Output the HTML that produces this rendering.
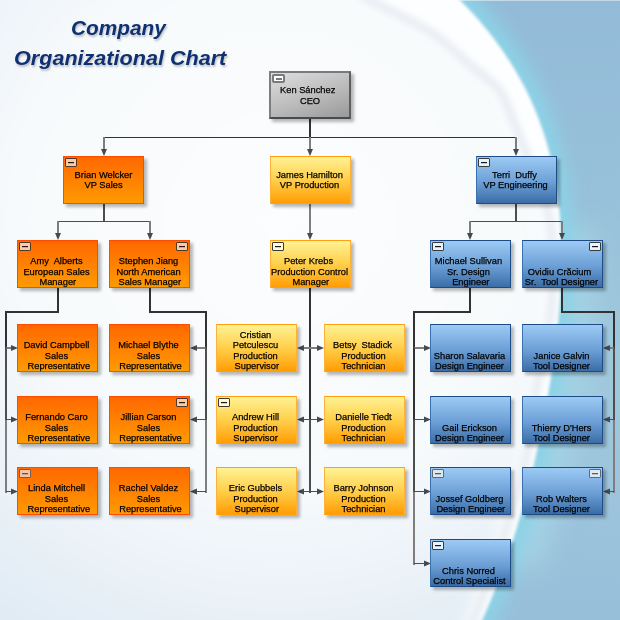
<!DOCTYPE html>
<html><head><meta charset="utf-8">
<style>
*{margin:0;padding:0;box-sizing:border-box}
html,body{width:620px;height:620px;overflow:hidden}
body{position:relative;font-family:"Liberation Sans",sans-serif;background:#eef5fa}
#bg{position:absolute;left:0;top:0}
#cn,#ar{position:absolute;left:0;top:0}
.title{position:absolute;font-family:"Liberation Sans",sans-serif;font-weight:bold;font-style:italic;color:#0f3072;font-size:20.5px;white-space:nowrap;transform-origin:0 0;text-shadow:1px 2px 2px rgba(60,60,60,.3)}
.bx{position:absolute;width:81px;height:48px;border:1px solid;box-shadow:3px 3px 3px rgba(0,0,0,.28)}
.bx .t{position:absolute;left:-5px;right:-3px;text-align:center;font-size:9.8px;line-height:10.35px;white-space:pre;color:#000;-webkit-text-stroke:0.25px #000;transform:scaleX(.95)}
.orange{border-color:#ff4a00;background:linear-gradient(#ff6800,#ff9a00)}
.yellow{border-color:#ffa00c;border-left-color:#ffb23a;border-right-color:#ffb23a;background:linear-gradient(#fff294,#ffcf4a 50%,#ff9d04)}
.blue{border-color:#1c4c88;border-left-color:#3a70b0;background:linear-gradient(#9ccaf4,#6c9fd6 55%,#3b6ca6)}
.gray{left:269px!important;width:82px;height:48px;border:2px solid;border-color:#7a7a7a #5e5e5e #4a4a4a #7e7e7e;background:linear-gradient(160deg,#dedede,#bbbbbb 55%,#999)}
.ic{position:absolute;top:1px;width:12px;height:9px;border:1px solid #3a3a3a;border-radius:1px}
.ic.L{left:1px} .ic.R{right:1px}
.ic:after{content:"";position:absolute;left:2px;width:6px;top:3px;height:1px;background:#1a1a1a;box-shadow:0 0.5px 0 rgba(0,0,0,.35)}
.orange .ic{background:#ffcaa0;border-color:#4a3a30}
.yellow .ic{background:#fffbd8}
.blue .ic{background:#e6f4fe}
.orange .ic.dim{background:#f4c4a4;border-color:#7a5a4a}
.orange .ic.dim:after{background:#6a5046}
.blue .ic.dim{background:#dde9f2;border-color:#626870}
.blue .ic.dim:after{background:#5a5e64}
.gray .ic{background:#fdfdfd;border:2px solid #7a7a7a;border-radius:2px;top:1px;left:1px;width:13px;height:9px}
.gray .ic:after{background:#7a7a7a;top:1.5px;left:1.5px;width:6px;height:2px;box-shadow:none}
</style></head><body>
<svg id="bg" width="620" height="620" viewBox="0 0 620 620">
<defs>
<filter id="b2" filterUnits="userSpaceOnUse" x="-100" y="-100" width="820" height="860"><feGaussianBlur stdDeviation="1.6"/></filter>
<filter id="b4" filterUnits="userSpaceOnUse" x="-100" y="-100" width="820" height="860"><feGaussianBlur stdDeviation="3.5"/></filter>
<filter id="b8" filterUnits="userSpaceOnUse" x="-100" y="-100" width="820" height="860"><feGaussianBlur stdDeviation="8"/></filter>
<filter id="b14" filterUnits="userSpaceOnUse" x="-100" y="-100" width="820" height="860"><feGaussianBlur stdDeviation="12"/></filter>
<radialGradient id="ig" cx="280" cy="220" r="480" gradientUnits="userSpaceOnUse">
<stop offset="0" stop-color="#fcfdfe"/><stop offset="0.55" stop-color="#f7fafc"/><stop offset="1" stop-color="#e0ebf4"/>
</radialGradient>
<linearGradient id="bb" x1="0" y1="0" x2="0" y2="1">
<stop offset="0" stop-color="#93bbd8"/><stop offset="0.3" stop-color="#97c0da"/><stop offset="0.62" stop-color="#a0c8dd"/><stop offset="1" stop-color="#98bfda"/>
</linearGradient>
</defs>
<rect width="620" height="620" fill="url(#bb)"/>
<path d="M560.8 230.0 L561.2 240.0 L561.4 250.0 L561.4 260.0 L561.3 270.0 L560.9 280.0 L560.5 290.0 L559.8 300.0 L559.1 310.0 L558.2 320.0 L557.2 330.0 L556.1 340.0 L554.8 350.0 L553.5 360.0 L552.0 370.0 L550.5 380.0 L548.8 390.0 L547.1 400.0 L545.2 410.0 L543.3 420.0 L541.3 430.0 L539.2 440.0 L537.0 450.0 L534.7 460.0 L532.3 470.0 L529.9 480.0 L527.3 490.0 L524.6 500.0 L521.8 510.0 L518.9 520.0 L515.9 530.0 L512.7 540.0 L509.5 550.0 L506.0 560.0" fill="none" stroke="#a4d2e4" stroke-width="70" filter="url(#b14)"/>
<path d="M414.2 -40.0 L426.8 -30.0 L438.5 -20.0 L449.6 -10.0 L460.0 0.0 L469.7 10.0 L478.7 20.0 L487.1 30.0 L494.9 40.0 L502.2 50.0 L508.9 60.0 L515.1 70.0 L520.8 80.0 L526.1 90.0 L530.8 100.0 L535.2 110.0 L539.1 120.0 L542.7 130.0 L545.9 140.0 L548.7 150.0 L551.2 160.0 L553.4 170.0 L555.3 180.0 L556.9 190.0 L558.2 200.0 L559.3 210.0 L560.1 220.0 L560.8 230.0 L561.2 240.0 L561.4 250.0 L561.4 260.0 L561.3 270.0 L560.9 280.0 L560.5 290.0 L559.8 300.0 L559.1 310.0 L558.2 320.0 L557.2 330.0 L556.1 340.0 L554.8 350.0 L553.5 360.0 L552.0 370.0 L550.5 380.0 L548.8 390.0 L547.1 400.0 L545.2 410.0 L543.3 420.0 L541.3 430.0 L539.2 440.0 L537.0 450.0 L534.7 460.0 L532.3 470.0 L529.9 480.0 L527.3 490.0 L524.6 500.0 L521.8 510.0 L518.9 520.0 L515.9 530.0 L512.7 540.0 L509.5 550.0 L506.0 560.0 L502.5 570.0 L498.7 580.0 L494.8 590.0 L490.7 600.0 L486.4 610.0 L482.0 620.0 L477.3 630.0 L472.3 640.0 L467.2 650.0 L461.7 660.0" fill="none" stroke="#8cd2e6" stroke-width="26" filter="url(#b8)"/>
<path d="M414.2 -40.0 L426.8 -30.0 L438.5 -20.0 L449.6 -10.0 L460.0 0.0 L469.7 10.0 L478.7 20.0 L487.1 30.0 L494.9 40.0 L502.2 50.0 L508.9 60.0 L515.1 70.0 L520.8 80.0 L526.1 90.0 L530.8 100.0 L535.2 110.0 L539.1 120.0 L542.7 130.0 L545.9 140.0 L548.7 150.0 L551.2 160.0 L553.4 170.0 L555.3 180.0 L556.9 190.0 L558.2 200.0 L559.3 210.0 L560.1 220.0 L560.8 230.0 L561.2 240.0 L561.4 250.0 L561.4 260.0 L561.3 270.0 L560.9 280.0 L560.5 290.0 L559.8 300.0 L559.1 310.0 L558.2 320.0 L557.2 330.0 L556.1 340.0 L554.8 350.0 L553.5 360.0 L552.0 370.0 L550.5 380.0 L548.8 390.0 L547.1 400.0 L545.2 410.0 L543.3 420.0 L541.3 430.0 L539.2 440.0 L537.0 450.0 L534.7 460.0 L532.3 470.0 L529.9 480.0 L527.3 490.0 L524.6 500.0 L521.8 510.0 L518.9 520.0 L515.9 530.0 L512.7 540.0 L509.5 550.0 L506.0 560.0 L502.5 570.0 L498.7 580.0 L494.8 590.0 L490.7 600.0 L486.4 610.0 L482.0 620.0 L477.3 630.0 L472.3 640.0 L467.2 650.0 L461.7 660.0 L-50 670 L-50 -50 Z" fill="#fdfeff" filter="url(#b2)"/>
<path d="M324.0 -20.0 C335.5 -14.2 376.8 6.7 393.0 15.0 C409.2 23.3 412.8 25.0 421.0 30.0 C429.2 35.0 435.8 40.0 442.0 45.0 C448.2 50.0 449.5 52.5 458.0 60.0 C466.5 67.5 484.8 80.0 493.0 90.0 C501.2 100.0 502.7 110.0 507.0 120.0 C511.3 130.0 514.8 140.0 519.0 150.0 C523.2 160.0 528.2 170.0 532.0 180.0 C535.8 190.0 539.7 200.0 542.0 210.0 C544.3 220.0 545.2 228.3 546.0 240.0 C546.8 251.7 547.3 266.7 547.0 280.0 C546.7 293.3 545.5 306.7 544.0 320.0 C542.5 333.3 540.2 349.2 538.0 360.0 C535.8 370.8 533.8 369.2 531.0 385.0 C528.2 400.8 524.7 435.8 521.0 455.0 C517.3 474.2 513.0 485.8 509.0 500.0 C505.0 514.2 502.0 525.0 497.0 540.0 C492.0 555.0 484.2 575.8 479.0 590.0 C473.8 604.2 469.3 615.0 466.0 625.0 C462.7 635.0 460.2 645.8 459.0 650.0 L-50 670 L-50 -50 Z" fill="url(#ig)" filter="url(#b8)"/>
<path d="M330.0 -20.0 C341.5 -14.2 382.8 6.7 399.0 15.0 C415.2 23.3 418.8 25.0 427.0 30.0 C435.2 35.0 441.8 40.0 448.0 45.0 C454.2 50.0 455.5 52.5 464.0 60.0 C472.5 67.5 490.8 80.0 499.0 90.0 C507.2 100.0 508.7 110.0 513.0 120.0 C517.3 130.0 520.8 140.0 525.0 150.0 C529.2 160.0 534.2 170.0 538.0 180.0 C541.8 190.0 545.7 200.0 548.0 210.0 C550.3 220.0 551.2 228.3 552.0 240.0 C552.8 251.7 553.3 266.7 553.0 280.0 C552.7 293.3 551.5 306.7 550.0 320.0 C548.5 333.3 546.2 349.2 544.0 360.0 C541.8 370.8 539.8 369.2 537.0 385.0 C534.2 400.8 530.7 435.8 527.0 455.0 C523.3 474.2 519.0 485.8 515.0 500.0 C511.0 514.2 508.0 525.0 503.0 540.0 C498.0 555.0 490.2 575.8 485.0 590.0 C479.8 604.2 475.3 615.0 472.0 625.0 C468.7 635.0 466.2 645.8 465.0 650.0" fill="none" stroke="#e7ecf2" stroke-width="8" filter="url(#b4)"/>
<rect x="440" y="0" width="180" height="1" fill="#fff" opacity=".45"/>
</svg>
<div class="title" style="left:71px;top:15.5px;transform:scaleX(1.014)">Company</div>
<div class="title" style="left:14px;top:45.6px;transform:scaleX(1.053)">Organizational Chart</div>
<svg id="cn" width="620" height="620" viewBox="0 0 620 620" shape-rendering="crispEdges">
<line x1="310" y1="119" x2="310" y2="138" stroke="#323232" stroke-width="2"/>
<line x1="103" y1="137.5" x2="517" y2="137.5" stroke="#323232" stroke-width="1"/>
<line x1="104" y1="137" x2="104" y2="150" stroke="#7e7e7e" stroke-width="2"/>
<line x1="310" y1="137" x2="310" y2="150" stroke="#7e7e7e" stroke-width="2"/>
<line x1="516" y1="137" x2="516" y2="150" stroke="#7e7e7e" stroke-width="2"/>
<line x1="104" y1="203" x2="104" y2="222" stroke="#4e4e4e" stroke-width="2"/>
<line x1="57" y1="221.5" x2="151" y2="221.5" stroke="#7e7e7e" stroke-width="1"/>
<line x1="57" y1="221.5" x2="151" y2="221.5" stroke="#4e4e4e" stroke-width="1"/>
<line x1="58" y1="221" x2="58" y2="234" stroke="#7e7e7e" stroke-width="2"/>
<line x1="150" y1="221" x2="150" y2="234" stroke="#7e7e7e" stroke-width="2"/>
<line x1="310" y1="203" x2="310" y2="234" stroke="#7e7e7e" stroke-width="2"/>
<line x1="516" y1="203" x2="516" y2="222" stroke="#4e4e4e" stroke-width="2"/>
<line x1="469" y1="221.5" x2="563" y2="221.5" stroke="#4e4e4e" stroke-width="1"/>
<line x1="470" y1="221" x2="470" y2="234" stroke="#7e7e7e" stroke-width="2"/>
<line x1="562" y1="221" x2="562" y2="234" stroke="#7e7e7e" stroke-width="2"/>
<line x1="58" y1="287" x2="58" y2="313" stroke="#323232" stroke-width="2"/>
<line x1="5" y1="312" x2="59" y2="312" stroke="#323232" stroke-width="2"/>
<line x1="6" y1="311" x2="6" y2="348" stroke="#323232" stroke-width="2"/>
<line x1="6" y1="348" x2="11" y2="348" stroke="#7e7e7e" stroke-width="2"/>
<line x1="6" y1="348" x2="6" y2="419.5" stroke="#4e4e4e" stroke-width="2"/>
<line x1="6" y1="419.5" x2="11" y2="419.5" stroke="#4e4e4e" stroke-width="1"/>
<line x1="6" y1="419.5" x2="6" y2="492.5" stroke="#7e7e7e" stroke-width="2"/>
<line x1="6" y1="491.5" x2="11" y2="491.5" stroke="#4e4e4e" stroke-width="1"/>
<line x1="150" y1="287" x2="150" y2="313" stroke="#323232" stroke-width="2"/>
<line x1="149" y1="312" x2="207" y2="312" stroke="#323232" stroke-width="2"/>
<line x1="206" y1="311" x2="206" y2="348" stroke="#323232" stroke-width="2"/>
<line x1="196" y1="348" x2="206" y2="348" stroke="#7e7e7e" stroke-width="2"/>
<line x1="206" y1="348" x2="206" y2="419.5" stroke="#4e4e4e" stroke-width="2"/>
<line x1="196" y1="419.5" x2="206" y2="419.5" stroke="#4e4e4e" stroke-width="1"/>
<line x1="206" y1="419.5" x2="206" y2="492.5" stroke="#7e7e7e" stroke-width="2"/>
<line x1="196" y1="491.5" x2="206" y2="491.5" stroke="#4e4e4e" stroke-width="1"/>
<line x1="470" y1="287" x2="470" y2="313" stroke="#323232" stroke-width="2"/>
<line x1="413" y1="312" x2="471" y2="312" stroke="#323232" stroke-width="2"/>
<line x1="414" y1="311" x2="414" y2="348" stroke="#323232" stroke-width="2"/>
<line x1="414" y1="348" x2="424" y2="348" stroke="#7e7e7e" stroke-width="2"/>
<line x1="414" y1="348" x2="414" y2="419.5" stroke="#323232" stroke-width="2"/>
<line x1="414" y1="419.5" x2="424" y2="419.5" stroke="#4e4e4e" stroke-width="1"/>
<line x1="414" y1="419.5" x2="414" y2="491.5" stroke="#4e4e4e" stroke-width="2"/>
<line x1="414" y1="491.5" x2="424" y2="491.5" stroke="#4e4e4e" stroke-width="1"/>
<line x1="414" y1="491.5" x2="414" y2="564.5" stroke="#7e7e7e" stroke-width="2"/>
<line x1="414" y1="563.5" x2="424" y2="563.5" stroke="#4e4e4e" stroke-width="1"/>
<line x1="562" y1="287" x2="562" y2="313" stroke="#323232" stroke-width="2"/>
<line x1="561" y1="312" x2="615" y2="312" stroke="#323232" stroke-width="2"/>
<line x1="614" y1="311" x2="614" y2="348" stroke="#323232" stroke-width="2"/>
<line x1="609" y1="348" x2="614" y2="348" stroke="#7e7e7e" stroke-width="2"/>
<line x1="614" y1="348" x2="614" y2="419.5" stroke="#4e4e4e" stroke-width="2"/>
<line x1="609" y1="419.5" x2="614" y2="419.5" stroke="#4e4e4e" stroke-width="1"/>
<line x1="614" y1="419.5" x2="614" y2="492.5" stroke="#7e7e7e" stroke-width="2"/>
<line x1="609" y1="491.5" x2="614" y2="491.5" stroke="#4e4e4e" stroke-width="1"/>
<line x1="310" y1="287" x2="310" y2="348" stroke="#323232" stroke-width="2"/>
<line x1="310" y1="348" x2="310" y2="419.5" stroke="#323232" stroke-width="2"/>
<line x1="310" y1="419.5" x2="310" y2="492.5" stroke="#4e4e4e" stroke-width="2"/>
<line x1="303" y1="348" x2="317" y2="348" stroke="#7e7e7e" stroke-width="2"/>
<line x1="303" y1="419.5" x2="317" y2="419.5" stroke="#4e4e4e" stroke-width="1"/>
<line x1="303" y1="491.5" x2="317" y2="491.5" stroke="#4e4e4e" stroke-width="1"/>
</svg><svg id="ar" width="620" height="620" fill="#434a50"><path d="M101 149h6L104 156z"/><path d="M307 149h6L310 156z"/><path d="M513 149h6L516 156z"/><path d="M55 233h6L58 240z"/><path d="M147 233h6L150 240z"/><path d="M307 233h6L310 240z"/><path d="M467 233h6L470 240z"/><path d="M559 233h6L562 240z"/><path d="M11 345v6L18 348z"/><path d="M11 416.5v6L18 419.5z"/><path d="M11 488.5v6L18 491.5z"/><path d="M197 345v6L190 348z"/><path d="M197 416.5v6L190 419.5z"/><path d="M197 488.5v6L190 491.5z"/><path d="M424 345v6L431 348z"/><path d="M424 416.5v6L431 419.5z"/><path d="M424 488.5v6L431 491.5z"/><path d="M424 560.5v6L431 563.5z"/><path d="M610 345v6L603 348z"/><path d="M610 416.5v6L603 419.5z"/><path d="M610 488.5v6L603 491.5z"/><path d="M304 345v6L297 348z"/><path d="M317 345v6L324 348z"/><path d="M304 416.5v6L297 419.5z"/><path d="M317 416.5v6L324 419.5z"/><path d="M304 488.5v6L297 491.5z"/><path d="M317 488.5v6L324 491.5z"/>
</svg>
<div class="bx gray" style="left:270px;top:71px"><i class="ic L"></i><div class="t" style="top:12.03px">Ken Sánchez </div><div class="t" style="top:22.73px;margin-left:1px;margin-right:-1px">CEO</div></div>
<div class="bx orange" style="left:63px;top:156px"><i class="ic L"></i><div class="t" style="top:12.83px;margin-left:1px;margin-right:-1px">Brian Welcker</div><div class="t" style="top:23.18px;margin-left:1px;margin-right:-1px">VP Sales</div></div>
<div class="bx yellow" style="left:270px;top:156px"><div class="t" style="top:12.83px">James Hamilton</div><div class="t" style="top:23.18px">VP Production</div></div>
<div class="bx blue" style="left:476px;top:156px"><i class="ic L"></i><div class="t" style="top:12.83px;margin-left:-1.5px;margin-right:1.5px">Terri  Duffy</div><div class="t" style="top:23.18px">VP Engineering</div></div>
<div class="bx orange" style="left:17px;top:240px"><i class="ic L"></i><div class="t" style="top:15.23px">Amy  Alberts</div><div class="t" style="top:25.58px">European Sales</div><div class="t" style="top:35.93px"> Manager</div></div>
<div class="bx orange" style="left:109px;top:240px"><i class="ic R"></i><div class="t" style="top:15.23px">Stephen Jiang</div><div class="t" style="top:25.58px">North American</div><div class="t" style="top:35.93px"> Sales Manager</div></div>
<div class="bx yellow" style="left:270px;top:240px"><i class="ic L"></i><div class="t" style="top:15.23px;margin-left:-1px;margin-right:1px">Peter Krebs</div><div class="t" style="top:25.58px">Production Control</div><div class="t" style="top:35.93px"> Manager</div></div>
<div class="bx blue" style="left:430px;top:240px"><i class="ic L"></i><div class="t" style="top:15.23px;margin-left:-1.5px;margin-right:1.5px">Michael Sullivan</div><div class="t" style="top:25.58px;margin-left:-1.5px;margin-right:1.5px">Sr. Design</div><div class="t" style="top:35.93px"> Engineer</div></div>
<div class="bx blue" style="left:522px;top:240px"><i class="ic R"></i><div class="t" style="top:25.58px;margin-left:-2px;margin-right:2px">Ovidiu Crăcium</div><div class="t" style="top:35.93px">Sr.  Tool Designer</div></div>
<div class="bx orange" style="left:17px;top:324px"><div class="t" style="top:15.23px">David Campbell</div><div class="t" style="top:25.58px">Sales</div><div class="t" style="top:35.93px;margin-left:1px;margin-right:-1px"> Representative</div></div>
<div class="bx orange" style="left:109px;top:324px"><div class="t" style="top:15.23px;margin-left:0.4px;margin-right:-0.4px">Michael Blythe</div><div class="t" style="top:25.58px">Sales</div><div class="t" style="top:35.93px;margin-left:2px;margin-right:-2px">Representative</div></div>
<div class="bx yellow" style="left:216px;top:324px"><div class="t" style="top:4.88px">Cristian</div><div class="t" style="top:15.23px">Petculescu</div><div class="t" style="top:25.58px">Production</div><div class="t" style="top:35.93px"> Supervisor</div></div>
<div class="bx yellow" style="left:324px;top:324px"><div class="t" style="top:15.23px;margin-left:-1px;margin-right:1px">Betsy  Stadick</div><div class="t" style="top:25.58px">Production</div><div class="t" style="top:35.93px">Technician</div></div>
<div class="bx blue" style="left:430px;top:324px"><div class="t" style="top:25.58px">Sharon Salavaria</div><div class="t" style="top:35.93px">Design Engineer</div></div>
<div class="bx blue" style="left:522px;top:324px"><div class="t" style="top:25.58px">Janice Galvin</div><div class="t" style="top:35.93px">Tool Designer</div></div>
<div class="bx orange" style="left:17px;top:396px"><div class="t" style="top:15.23px">Fernando Caro</div><div class="t" style="top:25.58px">Sales</div><div class="t" style="top:35.93px;margin-left:1px;margin-right:-1px"> Representative</div></div>
<div class="bx orange" style="left:109px;top:396px"><i class="ic R"></i><div class="t" style="top:15.23px;margin-left:0.4px;margin-right:-0.4px">Jillian Carson</div><div class="t" style="top:25.58px">Sales</div><div class="t" style="top:35.93px;margin-left:2px;margin-right:-2px">Representative</div></div>
<div class="bx yellow" style="left:216px;top:396px"><i class="ic L"></i><div class="t" style="top:15.23px">Andrew Hill</div><div class="t" style="top:25.58px">Production</div><div class="t" style="top:35.93px">Supervisor</div></div>
<div class="bx yellow" style="left:324px;top:396px"><div class="t" style="top:15.23px">Danielle Tiedt</div><div class="t" style="top:25.58px">Production</div><div class="t" style="top:35.93px">Technician</div></div>
<div class="bx blue" style="left:430px;top:396px"><div class="t" style="top:25.58px">Gail Erickson</div><div class="t" style="top:35.93px">Design Engineer</div></div>
<div class="bx blue" style="left:522px;top:396px"><div class="t" style="top:25.58px">Thierry D'Hers</div><div class="t" style="top:35.93px">Tool Designer</div></div>
<div class="bx orange" style="left:17px;top:467px"><i class="ic L dim"></i><div class="t" style="top:15.23px">Linda Mitchell</div><div class="t" style="top:25.58px">Sales</div><div class="t" style="top:35.93px;margin-left:1px;margin-right:-1px"> Representative</div></div>
<div class="bx orange" style="left:109px;top:467px"><div class="t" style="top:15.23px;margin-left:0.4px;margin-right:-0.4px">Rachel Valdez</div><div class="t" style="top:25.58px">Sales</div><div class="t" style="top:35.93px;margin-left:2px;margin-right:-2px">Representative</div></div>
<div class="bx yellow" style="left:216px;top:467px"><div class="t" style="top:15.23px">Eric Gubbels</div><div class="t" style="top:25.58px">Production</div><div class="t" style="top:35.93px"> Supervisor</div></div>
<div class="bx yellow" style="left:324px;top:467px"><div class="t" style="top:15.23px">Barry Johnson</div><div class="t" style="top:25.58px">Production</div><div class="t" style="top:35.93px">Technician</div></div>
<div class="bx blue" style="left:430px;top:467px"><i class="ic L dim"></i><div class="t" style="top:25.58px">Jossef Goldberg</div><div class="t" style="top:35.93px"> Design Engineer</div></div>
<div class="bx blue" style="left:522px;top:467px"><i class="ic R dim"></i><div class="t" style="top:25.58px">Rob Walters</div><div class="t" style="top:35.93px">Tool Designer</div></div>
<div class="bx blue" style="left:430px;top:539px"><i class="ic L"></i><div class="t" style="top:25.58px;margin-left:-1.5px;margin-right:1.5px">Chris Norred</div><div class="t" style="top:35.93px">Control Specialist</div></div>
</body></html>
